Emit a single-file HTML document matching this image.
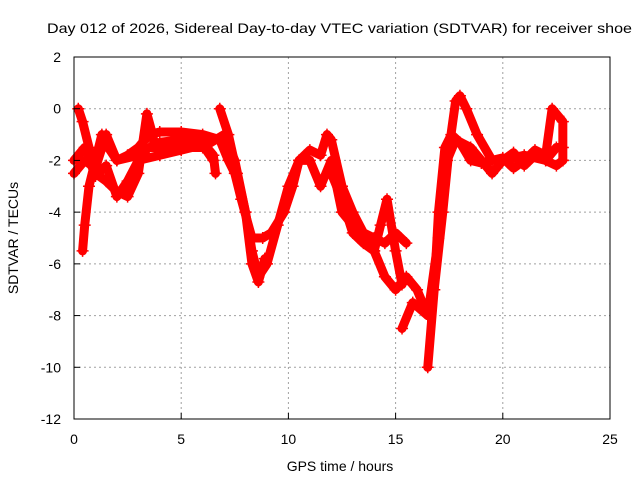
<!DOCTYPE html>
<html><head><meta charset="utf-8"><style>
body{margin:0;background:#fff}
svg{font-family:"Liberation Sans",sans-serif;font-size:14px}
</style></head><body>
<svg id="chart" width="640" height="480">
<text x="47" y="33" textLength="585" lengthAdjust="spacingAndGlyphs">Day 012 of 2026, Sidereal Day-to-day VTEC variation (SDTVAR) for receiver shoe</text>
<g id="grid"></g>
<g id="series"></g>
<rect x="74" y="57" width="536" height="362" fill="none" stroke="#000"/>
<g id="ticks"></g>
<text x="340" y="471" text-anchor="middle">GPS time / hours</text>
<text transform="translate(18,238) rotate(-90)" text-anchor="middle">SDTVAR / TECUs</text>
</svg>
<script>
const xTicks=[0,5,10,15,20,25];
const yTicks=[2,0,-2,-4,-6,-8,-10,-12];
const track1T=[0.2,0.4,0.7,1,1.5,2,2.5,3,3.4,3.6,3.8,4,5,6,6.5,6.6];
const track1V=[0,-0.5,-1.5,-2.5,-2.8,-3.2,-3.4,-2.5,-0.2,-0.8,-1.5,-1.3,-1.2,-1.3,-1.8,-2.5];
const track2T=[0.4,0.5,0.7,1,1.3,1.6,2,2.5,3,3.5,4,5,6,6.8,7.2,7.5,7.8,8.3,8.8,9.2,9.8,10.2,10.5,11,11.5,11.8,12,12.5,13,13.5,14,14.5,15,15.5];
const track2V=[-5.5,-4.5,-3,-2,-1,-1.5,-2,-1.8,-1.5,-1,-0.9,-0.9,-1,-1.2,-2,-2.5,-3.5,-5,-5,-4.8,-4,-3,-2,-1.6,-1.8,-1,-1.2,-3,-4,-4.8,-5,-5.2,-4.8,-5.2];
const track3T=[0,0.5,1,1.5,2,3,3.5,4,5,6,7,7.5,8,8.3,8.6,9,9.5,10,10.5,11,11.5,12,12.5,13,14,14.5,15,15.5,16,16.5,16.8,17.2,17.5,17.8,18,18.3,18.8,19.5,20,21,22,22.5,22.8];
const track3V=[-2.5,-2,-2.3,-1,-2,-1.8,-1.5,-1.5,-1.5,-1.5,-1,-2,-4,-5.5,-6.5,-6,-4.5,-3,-2,-2,-3,-2,-4,-4.5,-5.5,-6.5,-7,-6.5,-7,-8,-7,-4,-1.5,0.3,0.5,0,-1,-2,-2,-1.8,-2,-1.5,-1.5];
const track4T=[6.8,7.2,7.6,8,8.3,8.6,8.9];
const track4V=[0,-1,-2.5,-4,-6,-6.7,-5.8];
const track5T=[15.3,15.8,16.5,17,17.4,17.8,18.5,19,19.5,20,20.5,21,21.5,22,22.5,22.8];
const track5V=[-8.5,-7.5,-8,-5,-2,-1.2,-1.5,-2,-2.5,-2,-1.7,-2.2,-1.8,-2,-2.2,-2];
const track6T=[16.5,16.8,17,17.3,17.6,18,18.5,19,19.5,20,20.5,21,21.5,22,22.3,22.6,22.8,22.8];
const track6V=[-10,-7,-4,-1.5,-1,-1.3,-2,-2.1,-2,-1.9,-2.3,-2,-1.6,-1.8,0,-0.3,-0.5,-2];
const track7T=[0,0.5,1,1.5,2,2.5,3,4,5,6,6.5];
const track7V=[-2,-1.5,-2.6,-2.2,-3.4,-2.8,-2,-1.8,-1.6,-1.4,-2];
const track8T=[12,12.5,13,13.5,14,14.3,14.6,15,15.3];
const track8V=[-2.5,-3.5,-4.8,-5.2,-5.5,-4.5,-3.5,-5.5,-6.8];
const tracks=[[track1T,track1V],[track2T,track2V],[track3T,track3V],[track4T,track4V],[track5T,track5V],[track6T,track6V],[track7T,track7V],[track8T,track8V]];
const NS='http://www.w3.org/2000/svg';
const X=t=>74+t*536/25;
const Y=v=>57+(2-v)*362/14;
const grid=document.getElementById('grid'),ticks=document.getElementById('ticks'),ser=document.getElementById('series');
function mk(tag,attrs,parent){const e=document.createElementNS(NS,tag);for(const k in attrs)e.setAttribute(k,attrs[k]);parent.appendChild(e);return e;}
xTicks.forEach(t=>{
 if(t>0&&t<25){const g=mk('line',{x1:X(t),x2:X(t),y1:57,y2:419,stroke:'#a0a0a0','stroke-dasharray':'2,3'},grid);
 
 }
 const l=mk('text',{x:X(t),y:444,'text-anchor':'middle'},ticks);l.textContent=t;
 
 
 mk('line',{x1:X(t),x2:X(t),y1:419,y2:413,stroke:'#000'},ticks);
});
yTicks.forEach(v=>{
 if(v<2&&v>-12){const g=mk('line',{x1:74,x2:610,y1:Y(v),y2:Y(v),stroke:'#a0a0a0','stroke-dasharray':'2,3'},grid);
 
 }
 const l=mk('text',{x:61,y:Y(v)+5,'text-anchor':'end'},ticks);l.textContent=v;
 
 
 mk('line',{x1:74,x2:80,y1:Y(v),y2:Y(v),stroke:'#000'},ticks);
});
tracks.forEach(([T,V],i)=>{
 const pts=T.map((t,j)=>X(t)+','+Y(V[j])).join(' ');
 const p=mk('polyline',{points:pts,fill:'none',stroke:'#ff0000','stroke-width':9,'stroke-linejoin':'round','stroke-linecap':'round'},ser);
 
 
 T.forEach((t,j)=>{
  const m=mk('path',{d:`M${X(t)-6},${Y(V[j])}h12M${X(t)},${Y(V[j])-6}v12`,stroke:'#ff0000','stroke-width':1.5},ser);
  
  
 });
});
</script>
</body></html>
